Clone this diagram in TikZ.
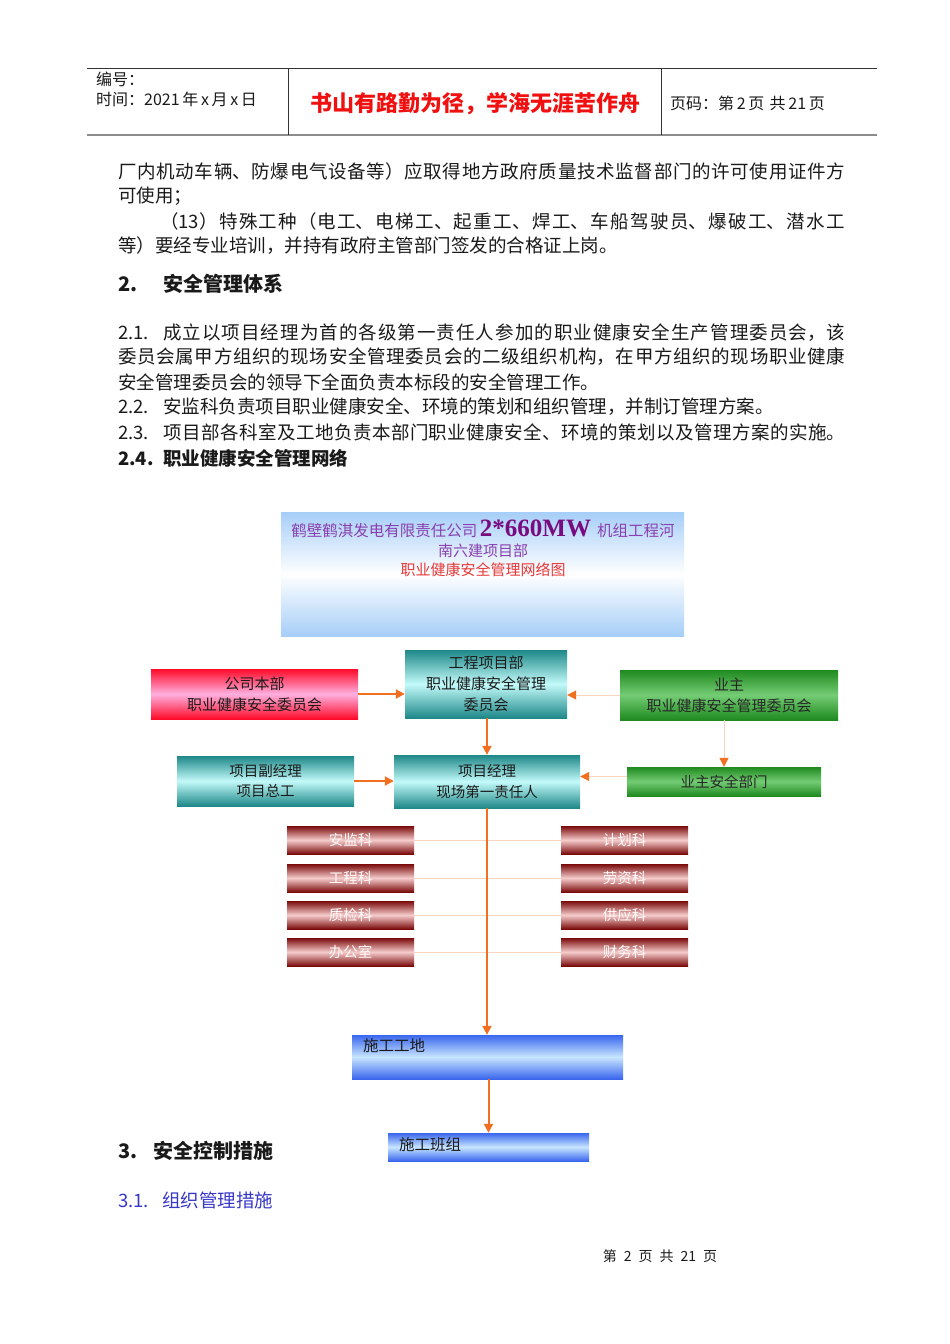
\documentclass[tikz,border=0pt]{standalone}
\usepackage{fontspec}
\setmainfont{Noto Sans CJK SC}
\newfontfamily\numserif{Liberation Serif}
\usetikzlibrary{arrows.meta}
\XeTeXlinebreaklocale "zh"
\XeTeXlinebreakskip=0pt plus 6pt
\newcommand{\myfs}[1]{\fontsize{#1}{\dimexpr #1pt*7/5\relax}\selectfont}
\newcommand{\jline}[2]{\parbox[b]{#1}{\parfillskip=0pt\relax #2}}
\definecolor{orangeC}{HTML}{F07020}
\definecolor{peach}{HTML}{F9D4BE}
\definecolor{txtC}{HTML}{1A1A1A}
\definecolor{mottoC}{HTML}{F01010}
\definecolor{tblue}{HTML}{A6CEF8}
\definecolor{purpC}{HTML}{8A40B0}
\definecolor{purpD}{HTML}{7A0A80}
\definecolor{titleRed}{HTML}{E83838}
\definecolor{redE}{HTML}{FF0A28}
\definecolor{redM}{HTML}{FFB0E0}
\definecolor{tealE}{HTML}{1E8888}
\definecolor{tealM}{HTML}{C4FAFA}
\definecolor{greenE}{HTML}{1F8A1F}
\definecolor{greenM}{HTML}{74CC74}
\definecolor{deptE}{HTML}{7A0A0A}
\definecolor{deptM}{HTML}{F6CCCC}
\definecolor{blueE}{HTML}{3A66EE}
\definecolor{blueM}{HTML}{C8E6FF}
\definecolor{secBlue}{HTML}{3838C8}
\tikzset{
  txt/.style={inner sep=0pt, text=txtC, font=\myfs{18.5}},
  hdr/.style={inner sep=0pt, text=txtC, font=\myfs{16}},
  gbox/.style={inner sep=0pt, shading=axis, align=center, text=txtC, font=\myfs{15}},
  redbox/.style={gbox, top color=redE, bottom color=redE, middle color=redM},
  tealbox/.style={gbox, top color=tealE, bottom color=tealE, middle color=tealM},
  greenbox/.style={gbox, top color=greenE, bottom color=greenE, middle color=greenM},
  deptbox/.style={gbox, top color=deptE, bottom color=deptE, middle color=deptM,
    minimum width=127pt, minimum height=28pt, text=white!92!pink, font=\myfs{14.5}},
  bluebox/.style={inner sep=0pt, shading=axis, top color=blueE, bottom color=blueE, middle color=blueM},
  oarrow/.style={draw=orangeC, line width=2pt, -{Triangle[length=9pt,width=9pt]}},
  faint/.style={draw=peach, line width=1pt, -{Triangle[length=9pt,width=9pt,color=orangeC]}},
  fline/.style={draw=peach, line width=1pt},
}
\begin{document}
\begin{tikzpicture}[x=1pt,y=-1pt]
\useasboundingbox[fill=white] (0,0) rectangle (950,1344);
% header
\draw[line width=0.8pt, black!80] (87,68) -- (877,68);
\draw[line width=2pt, black!45] (87,135) -- (877,135);
\draw[line width=0.8pt, black!80] (288,68) -- (288,135);
\draw[line width=0.8pt, black!80] (661,68) -- (661,135);
\node[hdr, anchor=west] (bh) at (96,79) {编号：};
\node[hdr, anchor=west] (sj) at (96,99) {时间：2021\,年\,x\,月\,x\,日};
\node[inner sep=0pt, text=mottoC, font=\myfs{22}\bfseries] (motto) at (475,104) {书山有路勤为径，学海无涯苦作舟};
\node[hdr, anchor=west] (ym) at (670,103) {页码：第\,2\,页\,\,共\,21\,页};
% body text
\node[txt, anchor=west] (l1) at (118,171) {\jline{727pt}{厂内机动车辆、防爆电气设备等）应取得地方政府质量技术监督部门的许可使用证件方}};
\node[txt, anchor=west] (l2) at (118,196) {可使用；};
\node[txt, anchor=west] (l3) at (160,221) {\jline{685pt}{（13）特殊工种（电工、电梯工、起重工、焊工、车船驾驶员、爆破工、潜水工}};
\node[txt, anchor=west] (l4) at (118,246) {等）要经专业培训，并持有政府主管部门签发的合格证上岗。};
\node[txt, anchor=west, font=\myfs{20}\bfseries] (s2) at (118,284) {\makebox[45pt][l]{2.}安全管理体系};
\node[txt, anchor=west] (l5) at (118,333) {\makebox[45pt][l]{2.1.}\jline{682pt}{成立以项目经理为首的各级第一责任人参加的职业健康安全生产管理委员会，该}};
\node[txt, anchor=west] (l6) at (118,357) {\jline{727pt}{委员会属甲方组织的现场安全管理委员会的二级组织机构，在甲方组织的现场职业健康}};
\node[txt, anchor=west] (l7) at (118,382) {安全管理委员会的领导下全面负责本标段的安全管理工作。};
\node[txt, anchor=west] (l8) at (118,407) {\makebox[45pt][l]{2.2.}安监科负责项目职业健康安全、环境的策划和组织管理，并制订管理方案。};
\node[txt, anchor=west] (l9) at (118,432) {\makebox[45pt][l]{2.3.}\jline{682pt}{项目部各科室及工地负责本部门职业健康安全、环境的策划以及管理方案的实施。}};
\node[txt, anchor=west, font=\myfs{18.5}\bfseries] (l10) at (118,458) {\makebox[45pt][l]{2.4.}职业健康安全管理网络};
% title box
\node[inner sep=0pt, shading=axis, top color=tblue, bottom color=tblue, middle color=white,
  minimum width=403pt, minimum height=124pt] (title) at (482.5,574) {};
\node[inner sep=0pt, text=purpC, font=\myfs{15.5}] (t1) at (483,529)
  {鹤壁鹤淇发电有限责任公司\,{\numserif\myfs{25}\bfseries\color{purpD}2*660MW}\, 机组工程河};
\node[inner sep=0pt, text=purpC, font=\myfs{15}] (t2) at (483,551) {南六建项目部};
\node[inner sep=0pt, text=titleRed, font=\myfs{15}] (t3) at (483,570) {职业健康安全管理网络图};
% top level boxes
\node[redbox, minimum width=207pt, minimum height=50pt] (hq) at (254.5,694) {公司本部\\职业健康安全委员会};
\node[tealbox, minimum width=162pt, minimum height=68pt] (pm) at (486,684) {工程项目部\\职业健康安全管理\\委员会};
\node[greenbox, minimum width=218pt, minimum height=50pt, text=black!85] (owner) at (729,695) {业主\\职业健康安全管理委员会};
\node[tealbox, minimum width=177pt, minimum height=50pt, font=\myfs{14.5}] (vice) at (265.5,781) {项目副经理\\项目总工};
\node[tealbox, minimum width=186pt, minimum height=53pt, font=\myfs{14.5}] (mgr) at (487,781.5) {项目经理\\现场第一责任人};
\node[greenbox, minimum width=194pt, minimum height=29pt, font=\myfs{14.5}, text=black!85] (ownsafe) at (724,781.5) {业主安全部门};
% departments
\node[deptbox] (d1) at (350.5,840) {安监科};
\node[deptbox] (d2) at (350.5,878) {工程科};
\node[deptbox] (d3) at (350.5,915) {质检科};
\node[deptbox] (d4) at (350.5,952) {办公室};
\node[deptbox] (e1) at (624.5,840) {计划科};
\node[deptbox] (e2) at (624.5,878) {劳资科};
\node[deptbox] (e3) at (624.5,915) {供应科};
\node[deptbox] (e4) at (624.5,952) {财务科};
\draw[fline] (d1.east) -- (e1.west);
\draw[fline] (d2.east) -- (e2.west);
\draw[fline] (d3.east) -- (e3.west);
\draw[fline] (d4.east) -- (e4.west);
% site boxes
\node[bluebox, minimum width=271pt, minimum height=44pt] (site) at (487.5,1057) {};
\node[inner sep=0pt, anchor=west, text=txtC, font=\myfs{15.5}] (sitel) at (363,1046) {施工工地};
\node[bluebox, minimum width=201pt, minimum height=28pt] (team) at (488.5,1147) {};
\node[inner sep=0pt, anchor=west, text=txtC, font=\myfs{15.5}] (teaml) at (399,1145) {施工班组};
% connectors
\draw[oarrow] (hq.east) -- (hq.east -| pm.west);
\draw[faint] (owner.west) -- (owner.west -| pm.east);
\draw[oarrow] (pm.south -| mgr.north) -- (mgr.north);
\draw[faint] (ownsafe.north |- owner.south) -- (ownsafe.north);
\draw[faint] ([yshift=5pt]ownsafe.west) -- ([yshift=5pt]ownsafe.west -| mgr.east);
\draw[oarrow] (vice.east) -- (vice.east -| mgr.west);
\draw[oarrow] (mgr.south) -- (mgr.south |- site.north);
\draw[oarrow] (site.south -| team.north) -- (team.north);
% section 3
\node[txt, anchor=west, font=\myfs{20}\bfseries] (s3) at (118,1151) {\makebox[35pt][l]{3.}安全控制措施};
\node[txt, anchor=west, text=secBlue] (s31) at (118,1200) {\makebox[44pt][l]{3.1.}组织管理措施};
\node[inner sep=0pt, text=txtC, font=\myfs{14}] (ft) at (660,1256) {第\enspace 2\enspace 页\enspace 共\enspace 21\enspace 页};
\end{tikzpicture}
\end{document}
